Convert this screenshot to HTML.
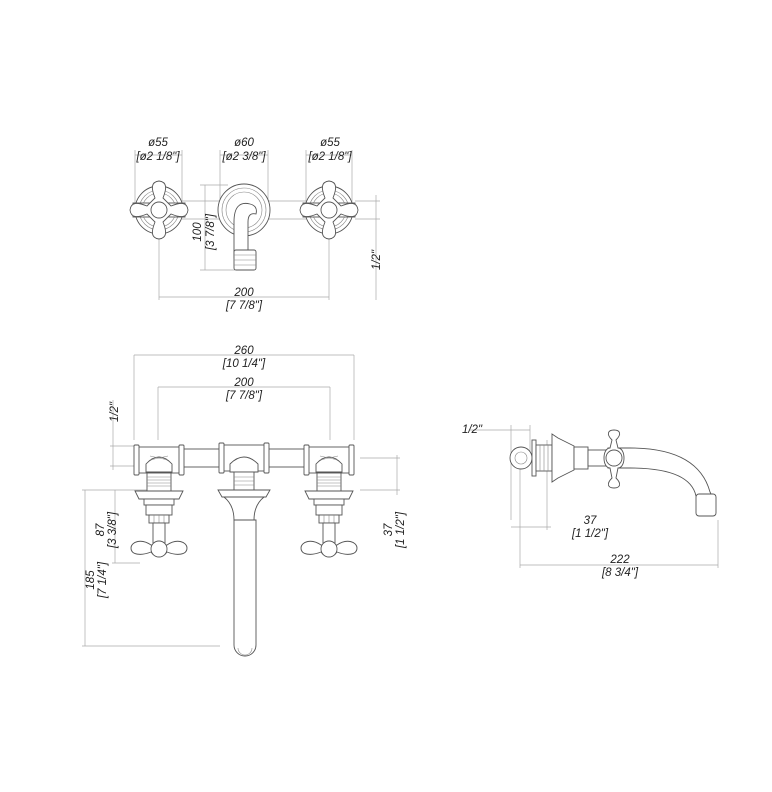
<!DOCTYPE html>
<html><head><style>
html,body{margin:0;padding:0;background:#fff;}
svg{display:block;}
text{font-family:"Liberation Sans",sans-serif;font-style:italic;font-size:11.5px;fill:#222;text-anchor:middle;}
.d{stroke:#aaa;stroke-width:0.7;fill:none;}
.o{stroke:#555;stroke-width:0.9;fill:#fff;}
.t{stroke:#888;stroke-width:0.6;fill:none;}
</style></head><body>
<svg width="772" height="792" viewBox="0 0 772 792" xmlns="http://www.w3.org/2000/svg">
<defs>
<g id="hTop">
  <circle class="o" r="24"/><circle class="t" r="20"/><circle class="t" r="17"/>
  <rect class="o" x="-26" y="-7" width="52" height="14" rx="0"/>
  <path class="o" d="M-4,-12 C-8,-22 -8,-28 0,-29 C8,-28 8,-22 4,-12 L12,-4 C22,-8 28,-8 29,0 C28,8 22,8 12,4 L4,12 C8,22 8,28 0,29 C-8,28 -8,22 -4,12 L-12,4 C-22,8 -28,8 -29,0 C-28,-8 -22,-8 -12,-4 Z"/>
  <circle class="o" r="8"/>
</g>
<g id="valve">
  <rect class="o" x="-22" y="-25" width="44" height="26"/>
  <rect class="o" x="-25" y="-27" width="5" height="30" rx="1"/>
  <rect class="o" x="20" y="-27" width="5" height="30" rx="1"/>
  <path class="o" d="M-13,0 L-13,-8 Q0,-22 13,-8 L13,0 Z"/>
  <path class="t" d="M-9,-16 L9,-12 M9,-16 L-9,-12"/>
  <rect class="o" x="-12" y="1" width="24" height="18"/>
  <path class="t" d="M-12,5H12M-12,8H12M-12,11H12M-12,14H12"/>
  <path class="o" d="M-24,19 H24 L20,27 H-20 Z"/>
  <rect class="o" x="-15" y="27" width="30" height="6"/>
  <rect class="o" x="-13" y="33" width="26" height="10"/>
  <rect class="o" x="-10" y="43" width="20" height="8"/>
  <path class="t" d="M-5,43V51M0,43V51M5,43V51"/>
  <rect class="o" x="-6" y="51" width="12" height="20"/>
  <path class="o" d="M-8,73 C-18,66 -28,70 -28,76 C-28,83 -18,84 -8,80 C-4,86 4,86 8,80 C18,84 28,83 28,76 C28,70 18,66 8,73 Z"/>
  <circle class="o" cx="0" cy="77" r="8"/>
</g>
</defs>

<!-- TOP VIEW -->
<g>
<path class="d" d="M135,150V215M182,150V215M135,155H182M220,150V215M268,150V215M220,155H268M306,150V215M352,150V215M306,155H352"/>
<text x="158" y="146">ø55</text><text x="158" y="160">[ø2 1/8"]</text>
<text x="244" y="146">ø60</text><text x="244" y="160">[ø2 3/8"]</text>
<text x="330" y="146">ø55</text><text x="330" y="160">[ø2 1/8"]</text>
<path class="d" d="M200,185H228M200,270H235M205,185V270M159,230V300M329,230V300M159,297H329M355,201H380M355,219H380M376,195V300"/>
<path class="d" d="M182,201H306M182,219H306"/>
<text transform="translate(201,232) rotate(-90)">100</text>
<text transform="translate(214,232) rotate(-90)">[3 7/8"]</text>
<text transform="translate(380,260) rotate(-90)">1/2"</text>
<text x="244" y="296">200</text><text x="244" y="309">[7 7/8"]</text>
<use href="#hTop" x="159" y="210"/>
<use href="#hTop" x="329" y="210"/>
<circle class="o" cx="244" cy="210" r="26"/><circle class="t" cx="244" cy="210" r="22"/><circle class="t" cx="244" cy="210" r="18"/>
<path class="o" d="M234,258 V222 Q234,200 250,204 Q258,206 256,214 Q248,212 248,222 V258 Z"/>
<rect class="o" x="234" y="250" width="22" height="20" rx="2"/>
<path class="t" d="M234,255H256M234,260H256M234,265H256"/>
</g>

<!-- FRONT VIEW -->
<g>
<path class="d" d="M134,355H354M134,355V440M354,355V440M158,387H330M158,387V440M330,387V440"/>
<text x="244" y="354">260</text><text x="244" y="367">[10 1/4"]</text>
<text x="244" y="386">200</text><text x="244" y="399">[7 7/8"]</text>
<path class="d" d="M110,446H134M110,466H134M113,400V470"/>
<text transform="translate(118,412) rotate(-90)">1/2"</text>
<path class="d" d="M82,490H150M82,646H220M85,490V646M112,490H135M112,563H140M115,490V563M360,458H400M360,490H400M397,455V495"/>
<text transform="translate(94,580) rotate(-90)">185</text>
<text transform="translate(106,580) rotate(-90)">[7 1/4"]</text>
<text transform="translate(104,530) rotate(-90)">87</text>
<text transform="translate(116,530) rotate(-90)">[3 3/8"]</text>
<text transform="translate(392,530) rotate(-90)">37</text>
<text transform="translate(404,530) rotate(-90)">[1 1/2"]</text>
<rect class="o" x="180" y="449" width="140" height="18"/>
<use href="#valve" x="159" y="472"/>
<use href="#valve" x="329" y="472"/>
<rect class="o" x="221" y="445" width="46" height="26"/>
<rect class="o" x="219" y="443" width="5" height="30" rx="1"/>
<rect class="o" x="264" y="443" width="5" height="30" rx="1"/>
<path class="o" d="M230,472 V464 Q244,450 258,464 V472 Z"/>
<rect class="o" x="234" y="472" width="20" height="18"/>
<path class="t" d="M234,477H254M234,481H254M234,485H254"/>
<path class="o" d="M218,490 H270 L266,497 H222 Z"/>
<path class="o" d="M224,497 H264 Q254,505 254,520 H234 Q234,505 224,497 Z"/>
<path class="o" d="M234,520 V645 A11,11 0 0 0 256,645 V520 Z"/>
<path class="t" d="M238,648 A7,7 0 0 0 252,648"/>
</g>

<!-- SIDE VIEW -->
<g>
<path class="d" d="M470,430H530M511,425V520M530,425V460M547,440V530M520,455V568M718,520V568M511,527H551M520,565H718"/>
<text x="472" y="433">1/2"</text>
<text x="590" y="524">37</text><text x="590" y="537">[1 1/2"]</text>
<text x="620" y="563">222</text><text x="620" y="576">[8 3/4"]</text>
<circle class="o" cx="521" cy="458" r="11"/><circle class="t" cx="521" cy="458" r="6"/>
<rect class="o" x="532" y="440" width="4" height="36"/>
<rect class="o" x="536" y="445" width="16" height="26"/>
<path class="t" d="M540,445V471M544,445V471M548,445V471"/>
<path class="o" d="M552,434 L558,438 L574,446 V470 L558,478 L552,482 Z"/>
<rect class="o" x="574" y="447" width="14" height="22"/>
<rect class="o" x="588" y="450" width="20" height="16"/>
<path class="o" d="M608,448 H630 Q698,448 710,492 L712,496 H696 Q690,468 630,468 H608 Z"/>
<rect class="o" x="696" y="494" width="20" height="22" rx="3"/>
<path class="o" d="M612,440 C606,434 608,430 614,430 C620,430 622,434 616,440 L618,448 C626,448 626,468 618,468 L616,478 C622,484 620,488 614,488 C608,488 606,484 612,478 L610,468 C602,468 602,448 610,448 Z"/>
<circle class="o" cx="614" cy="458" r="8"/>
</g>
</svg>
</body></html>
